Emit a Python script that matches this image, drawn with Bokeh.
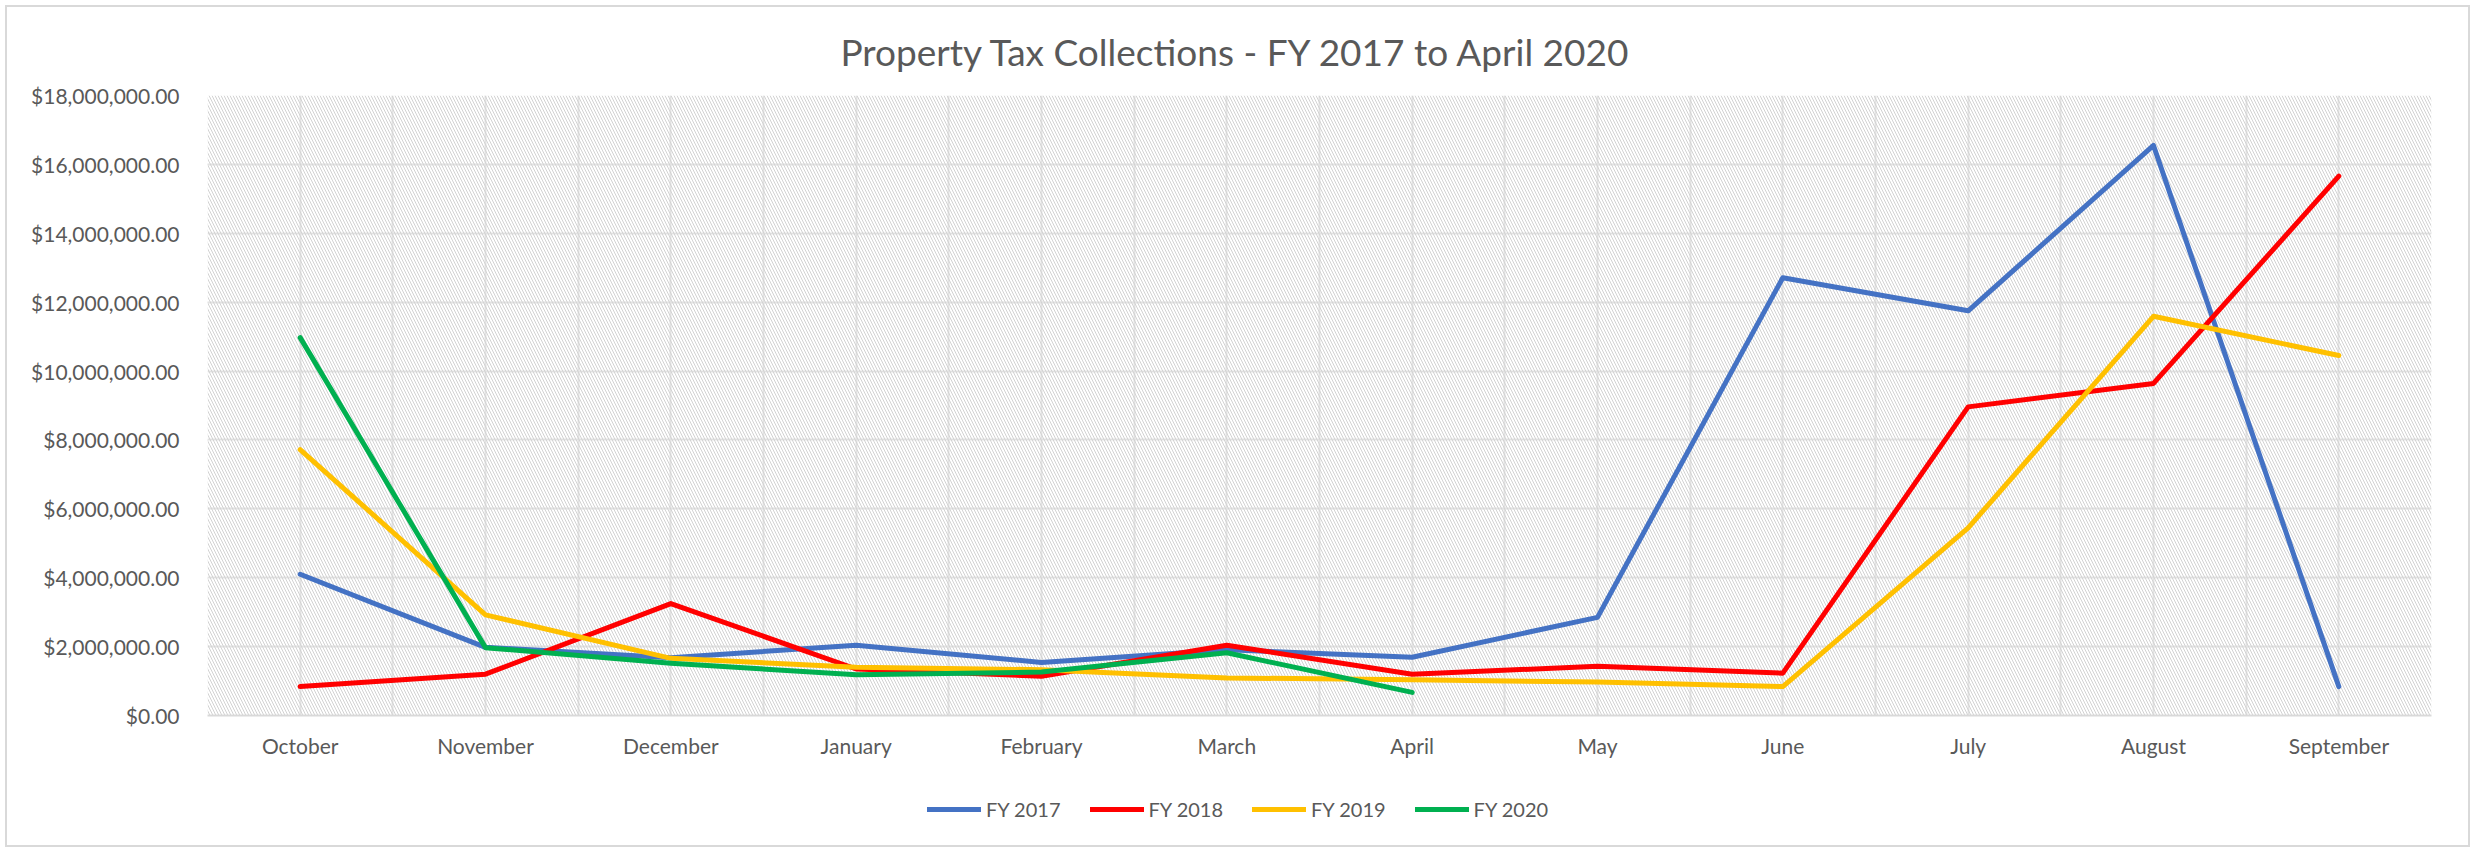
from bokeh.plotting import figure
from bokeh.layouts import column
from bokeh.models import (Range1d, FixedTicker, NumeralTickFormatter, Legend, LegendItem,
                          BoxAnnotation)
from bokeh.embed import file_html
from bokeh.resources import INLINE

months = ["October", "November", "December", "January", "February", "March",
          "April", "May", "June", "July", "August", "September"]
fy2017 = [4100000, 1980000, 1680000, 2040000, 1540000, 1910000, 1690000, 2850000,
          12710000, 11750000, 16550000, 840000]
fy2018 = [840000, 1200000, 3250000, 1350000, 1140000, 2040000, 1200000, 1430000,
          1230000, 8960000, 9640000, 15660000]
fy2019 = [7720000, 2920000, 1660000, 1400000, 1330000, 1090000, 1040000, 970000,
          840000, 5450000, 11590000, 10450000]
fy2020 = [10970000, 1970000, 1520000, 1180000, 1260000, 1820000, 670000]

series_names = ["FY 2017", "FY 2018", "FY 2019", "FY 2020"]
series_vals = [fy2017, fy2018, fy2019, fy2020]
series_colors = ["#4472C4", "#FF0000", "#FFC000", "#00B050"]
y_ticks = [0, 2000000, 4000000, 6000000, 8000000, 10000000, 12000000,
           14000000, 16000000, 18000000]

FONT = "Lato"
GREY = "#595959"

p = figure(width=2475, height=770, output_backend="svg", toolbar_location=None,
           x_range=Range1d(-0.5, len(months) - 0.5), y_range=Range1d(0, 18000000),
           min_border_left=207, min_border_right=44, min_border_top=95,
           min_border_bottom=55)
p.outline_line_color = None
p.background_fill_color = "white"
p.border_fill_color = None

p.title.text = "Property Tax Collections - FY 2017 to April 2020"
p.title.align = "left"
p.title.offset = 633
p.title.text_font = FONT
p.title.text_font_style = "normal"
p.title.text_font_size = "37px"
p.title.text_color = GREY
p.title.standoff = 43

# hatched plot area
p.add_layout(BoxAnnotation(fill_alpha=0, line_alpha=0, hatch_pattern="\\",
                           hatch_color="#d2d2d2", hatch_scale=6, hatch_weight=1,
                           level="underlay"))

idx = list(range(len(months)))
p.xaxis.ticker = FixedTicker(ticks=idx, minor_ticks=[i - 0.5 for i in range(len(months) + 1)])
p.xaxis.major_label_overrides = {i: m for i, m in enumerate(months)}
p.yaxis.ticker = FixedTicker(ticks=y_ticks)
p.yaxis.formatter = NumeralTickFormatter(format="$0,0.00")

for ax in (p.xaxis, p.yaxis):
    ax.major_tick_line_color = None
    ax.minor_tick_line_color = None
    ax.major_label_text_font = FONT
    ax.major_label_text_font_size = "21px"
    ax.major_label_text_color = GREY
p.yaxis.axis_line_color = None
p.yaxis.major_label_standoff = 22
p.xaxis.axis_line_color = "#d9d9d9"
p.xaxis.axis_line_width = 2
p.xaxis.major_label_standoff = 11

p.xgrid.grid_line_color = "#e3e3e3"
p.xgrid.grid_line_width = 2
p.xgrid.minor_grid_line_color = "#e3e3e3"
p.xgrid.minor_grid_line_width = 2
p.ygrid.grid_line_color = "#e3e3e3"
p.ygrid.grid_line_width = 2

for name, vals, col in zip(series_names, series_vals, series_colors):
    p.line(idx[:len(vals)], vals, line_color=col, line_width=5,
           line_cap="round", line_join="round")

# legend strip below the chart (same series, drawn outside this strip's range,
# so only the legend swatches show)
lg = figure(width=2475, height=82, output_backend="svg", toolbar_location=None,
            x_range=Range1d(-0.5, len(months) - 0.5), y_range=Range1d(-2, -1),
            x_axis_location=None, y_axis_location=None, min_border=0)
lg.grid.visible = False
lg.outline_line_color = None
lg.background_fill_color = None
lg.border_fill_color = None
items = []
for name, vals, col in zip(series_names, series_vals, series_colors):
    r = lg.line(idx[:len(vals)], vals, line_color=col, line_width=5, line_cap="round")
    items.append(LegendItem(label=name, renderers=[r]))
legend = Legend(items=items, orientation="horizontal", location=(720, 31),
                label_text_font=FONT, label_text_font_size="20px",
                label_text_color=GREY, glyph_width=54, glyph_height=20,
                label_standoff=5, spacing=29, border_line_color=None,
                background_fill_alpha=0, margin=0, padding=5)
lg.add_layout(legend, "center")

layout = column(p, lg, spacing=0)
layout.styles = {"outline": "2px solid #d9d9d9", "outline-offset": "-7px",
                 "background-color": "white"}

open("out.html", "w").write(file_html(layout, INLINE))
